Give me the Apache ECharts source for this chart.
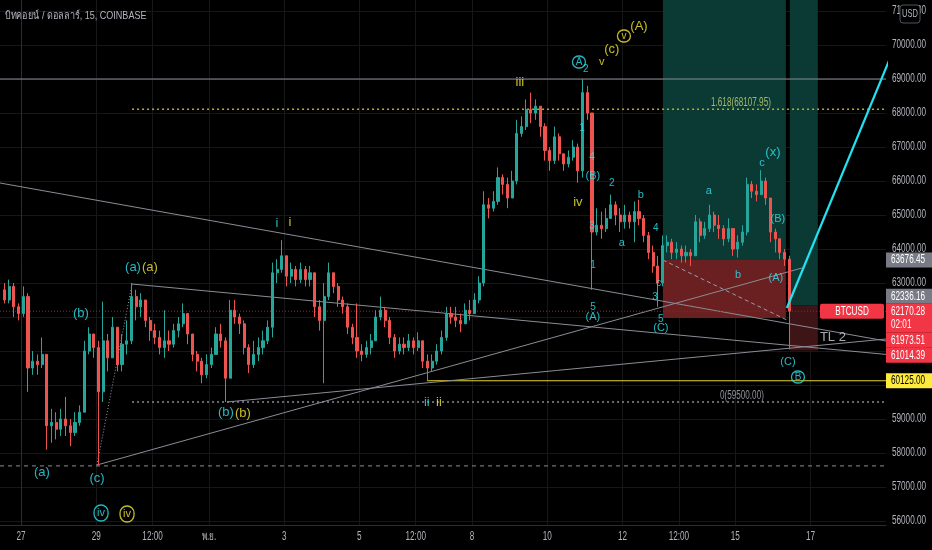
<!DOCTYPE html>
<html><head><meta charset="utf-8">
<script src="https://cdn.jsdelivr.net/npm/echarts@6/dist/echarts.min.js"></script>
<style>html,body{margin:0;padding:0;background:#000;}#c{width:932px;height:550px;}</style>
</head><body><div id="c"></div>
<script>
// ---------- data ----------
const titleText = 'บิทคอยน์ / ดอลลาร์, 15, COINBASE';
const firstOpen = 62800;
const candleStartHour = -10.5;   // hours from 27 Oct 00:00 (candle centre)
const candleStepHours = 3;
const closes = [62500,62900,62300,62100,62600,60500,60700,60600,60900,58800,
58900,58700,59000,58800,58600,58900,59200,61000,61500,61100,
59800,61300,60800,61700,60600,61200,61300,62600,62300,62500,
61900,61600,61400,61100,61300,61200,61600,61800,62100,61500,
60900,60700,60300,60600,60900,61500,61300,60200,62200,62000,
61800,61100,60600,60900,61100,61300,61700,63300,63400,63800,
63200,63400,63100,63400,63100,63300,62300,61900,62600,63300,
62900,62500,62300,61700,61400,61000,60900,61100,61300,62000,
62200,61900,61400,61000,61200,61100,61300,61100,61300,60700,
60500,60700,61000,61400,62100,62000,61900,61800,62200,62100,
62500,63000,65300,65200,65400,66100,65900,65500,66000,67400,
67600,68100,68000,68200,67600,66900,66600,67300,66800,66500,
66700,67000,66300,68600,68000,64500,64700,64600,64900,65300,
65000,64800,65000,64800,65100,64900,64400,63900,63500,63000,
64100,64200,63900,64000,63800,63900,63800,64800,64400,64600,
65000,64700,64600,64300,64600,64000,64200,64500,65900,65700,
65600,66000,65500,64500,64300,63900,63700,62170.28];
const highs = [63000,63100,63000,62400,62900,62700,61000,60900,61400,60800,
59300,59200,59300,59650,59000,59200,59400,61300,61700,61500,
61300,62450,61500,62000,61700,61500,61900,63000,62800,62700,
62400,62000,61800,61600,62200,61600,61800,62000,62400,62100,
61500,61000,60800,60900,61100,61700,61800,61400,62500,62500,
62100,61900,61200,61300,61400,61600,61900,63600,63700,64260,
63800,63600,63500,63600,63500,63500,63300,62500,63000,63600,
63300,63000,62600,62400,61800,62400,61200,61300,61500,62200,
62600,62300,62000,61500,61400,61400,61500,61400,61550,61300,
60900,60900,61200,61600,62300,62300,62300,62100,62400,62500,
62700,63200,65700,65500,65700,66400,66200,66100,66300,67800,
67900,68400,68600,68400,68200,67700,67000,67600,67400,66800,
66900,67200,67100,69000,68800,68000,65200,65100,65200,65600,
65400,65200,65300,65100,65400,65450,65000,64500,64100,63800,
64400,64400,64300,64200,64100,64100,64000,65000,64900,64800,
65300,65100,65000,64700,64900,64600,64400,64700,66100,66000,
65900,66320,66100,65400,64600,64200,64000,63800];
const lows = [62400,62400,62000,61900,62000,59800,60300,60300,60500,58100,
58300,58400,58500,58500,58200,58500,58800,59200,60900,60800,
57650,59500,60400,60800,60400,60400,60900,61200,61900,62000,
61700,61300,61200,60900,60800,61000,61100,61400,61700,61200,
60700,60400,60050,60200,60500,60900,61100,59500,60200,61800,
61500,60900,60350,60500,60700,60900,61200,61400,63000,63300,
62900,63000,62900,63000,62900,62900,62000,61600,60050,62500,
62700,62300,62100,61500,61200,60800,60700,60800,60900,61300,
61900,61700,61200,60800,60900,60900,61000,60900,61000,60500,
60125,60400,60600,60900,61300,61800,61700,61550,61800,61900,
62100,62400,62900,64900,65100,65300,65600,65200,65500,65900,
67300,67500,67700,67800,67300,66600,66300,66500,66600,66300,
66400,66600,65950,66100,67800,62800,64400,64300,64500,64900,
64700,64500,64600,64600,64200,64700,64200,63700,63300,62300,
62900,63900,63700,63700,63600,63600,63500,63800,64200,64300,
64500,64500,64300,64100,64200,63800,63750,64100,64400,65500,
65400,65600,65300,64200,63900,63700,63500,61050];

const timeTickHours  = [0,48,84,120,168,216,252,288,336,384,420,456,504];
const timeTickLabels = ['27','29','12:00','พ.ย.','3','5','12:00','8','10','12','12:00','15','17'];
const priceTicks = [56000,57000,58000,59000,60000,61000,62000,63000,64000,65000,66000,67000,68000,69000,70000,71000];

const lastPrice = 62170.28;
const countdown = '02:01';
const fibHigh = 68107.95, fibLow = 59500;
const level69k = 69000, levelLowDash = 57620, levelYellow = 60125;

// drawings: [h1, p1, h2, p2, style]
const X_MIN = -13.4, X_MAX = 552.2, Y_MIN = 55882, Y_MAX = 71324;
const drawLines = [
  [X_MIN, level69k, X_MAX, level69k, 'grey'],
  [70.9, fibHigh, X_MAX, fibHigh, 'fibY'],
  [70.9, fibLow, X_MAX, fibLow, 'fibG'],
  [X_MIN, levelLowDash, X_MAX, levelLowDash, 'dash'],
  [259.1, levelYellow, X_MAX, levelYellow, 'yellow'],
  [X_MIN, 65941, X_MAX, 61294, 'grey'],
  [70.9, 62970, X_MAX, 60900, 'grey'],
  [48.5, 57647, 498.5, 63441, 'grey'],
  [131.5, 59500, X_MAX, 61353, 'grey'],
  [48.5, 57647, 70.9, 62970, 'dotted'],
  [409.8, 63676.45, 488.9, 61912, 'posDash'],
  [488.9, 62265, 560.9, 70294, 'cyan'],
  [X_MIN, lastPrice, X_MAX, lastPrice, 'price']
];
// position tools: [fromHour, toHour, entry, stop, style]
const positions = [
  [409.8, 488.3, 63676.45, 61973.51, 'p1'],
  [490.8, 508.7, 62336.16, 61014.39, 'p2']
];
// wave labels: [text, hour, price, colour, kind]
const waveLabels = [
  ['(a)',13.4,57441,'c','big'], ['(b)',38.3,62118,'c','big'], ['(c)',48.5,57265,'c','big'],
  ['(a)',71.5,63471,'c','big'], ['(a)',82.3,63471,'y','big'],
  ['(b)',130.8,59206,'c','big'], ['(b)',141.7,59176,'y','big'],
  ['i',163.4,64765,'c','big'], ['i',171.7,64794,'y','big'],
  ['ii',259.1,59500,'c','big'], ['ii',266.8,59500,'y','big'],
  ['iii',318.5,68912,'y','big'],
  ['A',356.2,69500,'c','circ'], ['2',360.6,69294,'c','small'],
  ['v',370.8,69500,'y','mid'], ['(c)',377.2,69882,'y','big'],
  ['v',384.9,70265,'y','circ'], ['(A)',394.5,70559,'y','big'],
  ['iv',355.5,65382,'y','big'],
  ['1',358.1,67559,'c','small'], ['4',364.5,66706,'c','small'], ['(B)',365.1,66147,'c','mid'],
  ['2',377.2,65941,'c','small'], ['b',395.7,65588,'c','mid'], ['3',364.5,64676,'c','small'],
  ['4',405.3,64618,'c','small'], ['a',383.6,64176,'c','mid'], ['1',365.1,63529,'c','small'],
  ['c',407.2,63000,'c','small'], ['3',404.7,62588,'c','small'],
  ['5',365.1,62294,'c','small'], ['(A)',365.1,62000,'c','mid'],
  ['5',408.5,61941,'c','small'], ['(C)',408.5,61676,'c','mid'],
  ['a',439.1,65706,'c','mid'], ['c',473.0,66529,'c','mid'], ['(x)',480.0,66853,'c','big'],
  ['(B)',483.2,64882,'c','mid'], ['b',457.7,63235,'c','mid'], ['(A)',481.9,63147,'c','mid'],
  ['(C)',489.6,60676,'c','mid'], ['B',496.0,60235,'c','circ'],
  ['TL 2',518.3,61412,'w','big'],
  ['iv',51.1,56235,'c','circ2'], ['iv',67.7,56206,'y','circ2']
];
// fib level captions: [text, hour, price, colour]
const fibCaptions = [
  ['1.618(68107.95)', 459.6, 68294, 'fib'],
  ['0(59500.00)', 460.2, 59676, 'fibg']
];
// right-axis price tags: [text, value, kind]
const priceTags = [
  ['63676.45', 63676.45, 'grey'],
  ['62336.16', 62336.16, 'grey'],
  ['61973.51', 61973.51, 'red'],
  ['61014.39', 61014.39, 'red'],
  ['60125.00', 60125.00, 'yellow']
];

// ---------- styles ----------
const FONT = "'Liberation Sans','Noto Sans',sans-serif";
const NARROW = 0.68;
const COL = {c:'#2fe3f0', y:'#f7e733', w:'#d1d4dc', fib:'#a3b86c', fibg:'#8f929b'};
const SIZE = {big:13, mid:11, small:10};
const lineStyles = {
  grey:{color:'#8a8d96', width:1, type:'solid'},
  fibY:{color:'#b8ab2a', width:1.5, type:[2,3]},
  fibG:{color:'#8a8d96', width:1.3, type:[2,3]},
  dash:{color:'#8a8d96', width:1, type:[4,4]},
  yellow:{color:'#e6d52a', width:1.2, type:'solid'},
  dotted:{color:'#9a9da6', width:1, type:[1,2]},
  posDash:{color:'#9a9da6', width:1, type:[4,3]},
  cyan:{color:'#22e2f2', width:2.2, type:'solid'},
  price:{color:'#8c2a30', width:1, type:[1,2]}
};
const posColors = {p1:{g:'#0b3a34', r:'#6a1f20'}, p2:{g:'#0b3a34', r:'#3e1416'}};

const candles = closes.map((c, i) => {
  const o = i === 0 ? firstOpen : closes[i - 1];
  return [candleStartHour + i * candleStepHours, o, c, lows[i], highs[i]];
});

const series = [];
const areaData = [];
positions.forEach(p => {
  const pc = posColors[p[4]];
  areaData.push([{coord:[p[0], Y_MAX], itemStyle:{color:pc.g, opacity:1}}, {coord:[p[1], p[2]]}]);
  areaData.push([{coord:[p[0], p[2]], itemStyle:{color:pc.r, opacity:1}}, {coord:[p[1], p[3]]}]);
});
series.push({type:'line', data:[], z:1, silent:true, animation:false,
  markArea:{silent:true, animation:false, data:areaData}});

drawLines.forEach(d => {
  series.push({type:'line', data:[[d[0],d[1]],[d[2],d[3]]], showSymbol:false, symbol:'none',
    silent:true, animation:false, z: d[4]==='cyan' ? 8 : 3, clip:true,
    lineStyle:lineStyles[d[4]]});
});

series.push({type:'candlestick', data:candles, z:5, animation:false, barWidth:2.6,
  encode:{x:0, y:[1,2,3,4]},
  itemStyle:{color:'#26a69a', color0:'#ef5350', borderColor:'#26a69a', borderColor0:'#ef5350', borderWidth:1}});

const labelData = waveLabels.map(w => {
  const color = COL[w[3]];
  let label;
  if (w[4] === 'circ' || w[4] === 'circ2') {
    const tall = w[4] === 'circ2';
    label = {show:true, position:'inside', formatter:'{o|' + w[0] + '}',
      rich:{o:{color:color, fontSize: tall ? 11 : 10, fontFamily:FONT, borderColor:color, borderWidth:1.3,
        borderRadius: tall ? 8 : 7, width: tall ? 12 : 11, height: tall ? 16 : 12, align:'center',
        verticalAlign:'middle', lineHeight: tall ? 16 : 12, padding:[0,1]}}};
  } else {
    label = {show:true, position:'inside', formatter:w[0], color:color, fontSize:SIZE[w[4]], fontFamily:FONT};
  }
  return {value:[w[1], w[2]], label:label};
});
series.push({type:'scatter', data:labelData, symbolSize:2, itemStyle:{color:'rgba(0,0,0,0)'}, z:10, silent:true,
  animation:false, clip:false});

const chart = echarts.init(document.getElementById('c'));
chart.setOption({
  backgroundColor:'#000000',
  animation:false,
  grid:{left:0, right:46, top:0, bottom:25, containLabel:false, outerBoundsMode:'none'},
  xAxis:{type:'value', min:X_MIN, max:X_MAX,
    axisLine:{show:true, lineStyle:{color:'#2a2c33'}},
    axisTick:{show:false, customValues:timeTickHours},
    axisLabel:{show:false, customValues:timeTickHours},
    splitLine:{show:true, lineStyle:{color:'#161719', width:1}}
  },
  yAxis:{type:'value', position:'right', min:Y_MIN, max:Y_MAX, scale:true,
    axisLine:{show:true, lineStyle:{color:'#2a2c33'}},
    axisTick:{show:false, customValues:priceTicks},
    axisLabel:{show:false, customValues:priceTicks},
    splitLine:{show:true, lineStyle:{color:'#161719', width:1}}
  },
  series:series
});

// ---------- axis labels and tags (condensed text, positioned through the axes) ----------
const yPix = v => chart.convertToPixel({yAxisIndex:0}, v);
const xPix = v => chart.convertToPixel({xAxisIndex:0}, v);
const axisX = xPix(X_MAX);
const axisY = yPix(Y_MIN);
const g = [];
const txt = (text, x, y, fill, size, align, z) => ({type:'text', x:x, y:y, scaleX:NARROW, z:z || 101,
  style:{text:text, fill:fill, font:size + 'px ' + FONT, align:align || 'left', verticalAlign:'middle'}});

priceTicks.forEach(v => g.push(txt(v.toFixed(2), axisX + 6, yPix(v), '#b2b5be', 12, 'left', 50)));
timeTickHours.forEach((h, i) => g.push(txt(timeTickLabels[i], xPix(h), axisY + 12, '#b2b5be', 12, 'center', 50)));
fibCaptions.forEach(f => g.push(txt(f[0], xPix(f[1]), yPix(f[2]), COL[f[3]], 12, 'center', 40)));

const TAG_H = 15, LAST_H = 29;
const tagBg = {grey:'#787b86', red:'#f23645', yellow:'#ffeb3b'};
const tagFg = {grey:'#ffffff', red:'#ffffff', yellow:'#000000'};
const lastTop = yPix(lastPrice) - TAG_H / 2;
const lastBottom = lastTop + LAST_H;
const above = priceTags.filter(t => t[1] > lastPrice).sort((a, b) => a[1] - b[1]);
const below = priceTags.filter(t => t[1] < lastPrice).sort((a, b) => b[1] - a[1]);
const placed = [];
let lim = lastTop;
above.forEach(t => { const top = Math.min(yPix(t[1]) - TAG_H / 2, lim - TAG_H); placed.push([t, top]); lim = top; });
lim = lastBottom;
below.forEach(t => { const top = Math.max(yPix(t[1]) - TAG_H / 2, lim); placed.push([t, top]); lim = top + TAG_H; });
placed.forEach(([t, top]) => {
  g.push({type:'rect', shape:{x:axisX, y:top, width:46, height:TAG_H}, style:{fill:tagBg[t[2]]}, z:100});
  g.push(txt(t[0], axisX + 5, top + TAG_H / 2, tagFg[t[2]], 12, 'left'));
});
g.push({type:'rect', shape:{x:axisX, y:lastTop, width:46, height:LAST_H}, style:{fill:'#f23645'}, z:100});
g.push(txt(lastPrice.toFixed(2), axisX + 5, lastTop + TAG_H / 2, '#ffffff', 12, 'left'));
g.push(txt(countdown, axisX + 5, lastTop + TAG_H / 2 + 13, '#ffffff', 12, 'left'));
g.push({type:'rect', shape:{x:axisX - 66, y:lastTop, width:64, height:TAG_H, r:2}, style:{fill:'#f23645'}, z:100});
g.push(txt('BTCUSD', axisX - 34, lastTop + TAG_H / 2, '#ffffff', 12, 'center'));
// USD box
g.push({type:'rect', shape:{x:axisX + 14, y:5, width:20, height:18, r:3}, style:{fill:'#000', stroke:'#50535e', lineWidth:1}, z:100});
g.push(txt('USD', axisX + 24, 14, '#b2b5be', 11, 'center'));
// title
g.push({type:'text', x:5, y:16, scaleX:0.82, z:101, style:{text:titleText, fill:'#b2b5be', font:'11px ' + FONT, verticalAlign:'middle'}});
chart.setOption({graphic:g});
</script>
</body></html>
